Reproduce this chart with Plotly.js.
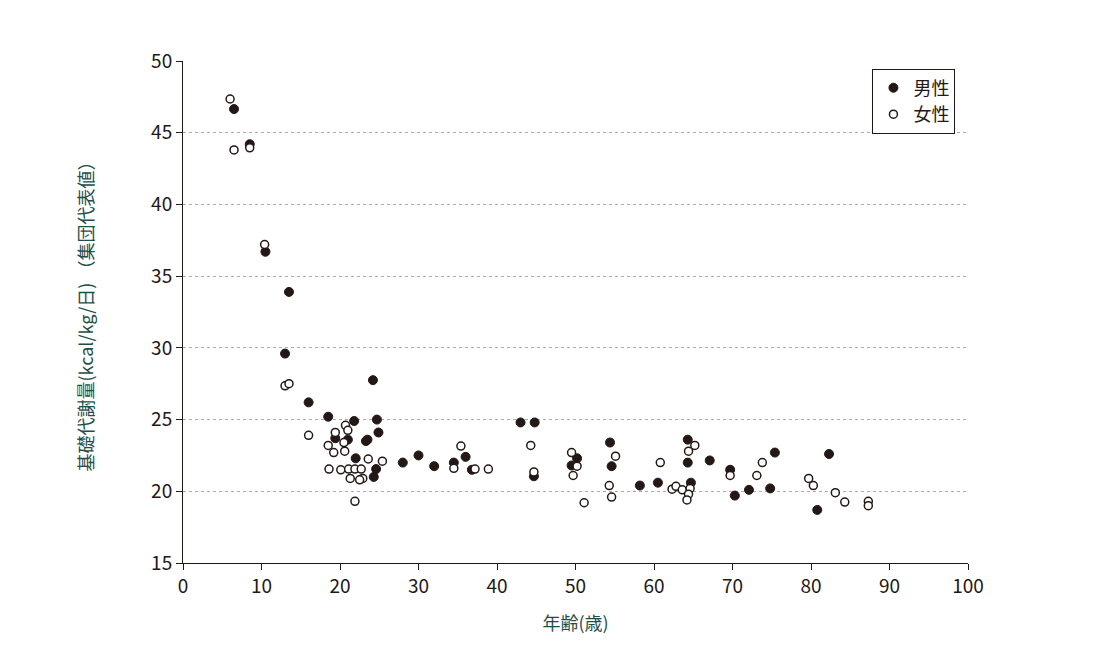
<!DOCTYPE html>
<html><head><meta charset="utf-8">
<script src="https://cdn.plot.ly/plotly-3.0.1.min.js"></script>
<style>body{margin:0}#chart{width:1094px;height:650px}</style>
</head><body><div id="chart"></div>
<script>
// 男性 (filled)
const maleAge = [6.5,8.5,10.5,13.5,13.0,16.0,24.2,18.5,21.8,24.7,24.9,19.4,21.0,23.3,23.5,22.0,24.6,24.3,28.0,30.0,32.0,34.5,36.0,36.8,43.0,44.8,44.7,49.5,50.2,54.4,54.6,58.2,60.5,64.3,64.3,64.7,67.1,69.7,70.3,72.1,74.8,75.4,80.8,82.3];
const maleBmr = [46.65,44.2,36.7,33.9,29.6,26.2,27.75,25.2,24.9,25.0,24.1,23.7,23.6,23.5,23.6,22.3,21.55,21.0,22.0,22.5,21.75,22.0,22.4,21.5,24.8,24.8,21.05,21.8,22.3,23.4,21.75,20.4,20.6,23.6,22.0,20.6,22.15,21.5,19.7,20.1,20.2,22.7,18.7,22.6];
// 女性 (open)
const femaleAge = [6.0,6.5,8.5,10.4,13.0,13.5,16.0,18.5,19.4,20.7,21.0,20.5,19.2,20.6,18.6,20.1,21.1,21.3,21.9,22.7,22.9,23.6,25.4,21.9,22.5,34.5,35.4,37.2,38.9,44.3,44.7,49.5,49.7,50.2,51.1,54.3,54.6,55.1,60.8,62.3,62.8,63.6,64.4,64.6,64.4,64.2,65.2,69.7,73.1,73.8,79.7,80.3,83.1,84.3,87.3,87.3];
const femaleBmr = [47.35,43.8,43.95,37.2,27.35,27.5,23.9,23.2,24.1,24.6,24.25,23.4,22.7,22.8,21.55,21.5,21.55,20.9,21.55,21.55,20.9,22.25,22.1,19.3,20.8,21.6,23.15,21.55,21.55,23.2,21.35,22.7,21.1,21.75,19.2,20.4,19.6,22.45,22.0,20.15,20.35,20.1,22.8,20.2,19.8,19.4,23.2,21.1,21.1,22.0,20.9,20.4,19.9,19.25,19.3,19.0];

const font = '"Noto Sans CJK JP", "Noto Sans", sans-serif';
Plotly.newPlot('chart', [
  {x: maleAge, y: maleBmr, name: '男性', mode: 'markers', type: 'scatter',
   marker: {size: 9, color: '#231815', line: {color: '#231815', width: 1}}},
  {x: femaleAge, y: femaleBmr, name: '女性', mode: 'markers', type: 'scatter',
   marker: {size: 8, color: '#ffffff', line: {color: '#231815', width: 1.5}}}
], {
  width: 1094, height: 650,
  margin: {l: 183, r: 126, t: 61, b: 87},
  paper_bgcolor: '#fff', plot_bgcolor: '#fff',
  font: {family: font, color: '#231815', size: 19},
  showlegend: true,
  legend: {x: 0.984, xanchor: 'right', y: 0.985, yanchor: 'top', bordercolor: '#231815', borderwidth: 1,
           font: {size: 18}, bgcolor: '#fff', itemwidth: 30, tracegroupgap: 8},
  xaxis: {range: [0, 100], dtick: 10, ticks: 'outside', ticklen: 6, showgrid: false, zeroline: false,
          showline: true, linecolor: '#231815', tickcolor: '#231815',
          title: {text: '年齢(歳)', font: {size: 18, color: '#1f4e4a'}, standoff: 20}},
  yaxis: {range: [15, 50], dtick: 5, ticks: 'outside', ticklen: 6, zeroline: false,
          showgrid: true, gridcolor: '#aaa', griddash: 'dot', gridwidth: 1,
          showline: true, linecolor: '#231815', tickcolor: '#231815',
          title: {text: '基礎代謝量(kcal/kg/日) （集団代表値）', font: {size: 18, color: '#1f4e4a'}, standoff: 52}}
}, {displayModeBar: false});
</script></body></html>
